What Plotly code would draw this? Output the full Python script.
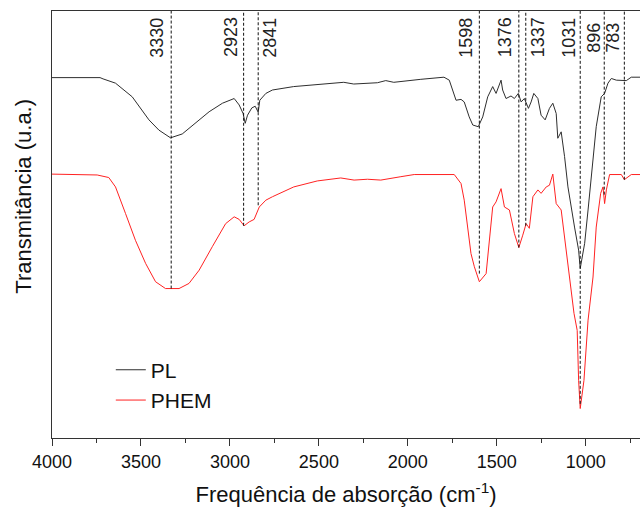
import plotly.graph_objects as go

# ---- data (wavenumber cm-1, transmittance in arbitrary units) ----
pl_wn = [4000, 3730, 3713, 3643, 3549, 3455, 3399, 3334, 3268, 3193, 3117, 3042, 2976, 2948,
         2926, 2914, 2901, 2877, 2858, 2841, 2832, 2798, 2761, 2642, 2452, 2360, 2304, 2171,
         2124, 2079, 1927, 1797, 1767, 1748, 1729, 1701, 1683, 1655, 1635, 1604, 1579, 1551,
         1523, 1504, 1491, 1476, 1467, 1448, 1420, 1401, 1379, 1363, 1345, 1322, 1307, 1292,
         1269, 1251, 1228, 1204, 1185, 1166, 1157, 1138, 1119, 1100, 1063, 1040, 1031, 1006,
         987, 959, 941, 913, 894, 875, 856, 828, 800, 772, 744, 687]
pl_t = [84.4, 84.4, 84.1, 83.1, 79.9, 74.5, 72.1, 70.3, 71.2, 73.7, 76.4, 78.4, 79.5, 78.0,
        76.0, 73.7, 75.6, 77.3, 77.7, 76.3, 79.1, 80.7, 81.5, 82.3, 82.9, 83.3, 82.9, 83.2,
        83.7, 83.3, 84.0, 84.5, 83.8, 81.5, 79.1, 79.3, 78.7, 75.2, 73.3, 72.9, 75.2, 79.9,
        82.3, 80.7, 82.3, 83.8, 81.5, 79.5, 80.1, 79.5, 80.7, 78.7, 79.5, 77.2, 78.7, 80.7,
        79.5, 75.6, 74.5, 77.2, 78.4, 76.0, 70.2, 71.7, 65.9, 58.8, 49.4, 44.0, 39.7, 45.6,
        53.4, 65.1, 72.9, 79.9, 80.7, 83.1, 84.2, 83.8, 83.7, 83.7, 84.5, 84.5]

phem_wn = [4000, 3746, 3681, 3643, 3587, 3531, 3474, 3418, 3362, 3286, 3230, 3173, 3099, 3024,
           2976, 2948, 2920, 2892, 2864, 2835, 2798, 2761, 2641, 2509, 2377, 2302, 2227, 2152,
           2039, 1964, 1739, 1701, 1683, 1664, 1645, 1626, 1598, 1560, 1542, 1523, 1504, 1476,
           1457, 1429, 1401, 1376, 1354, 1335, 1317, 1297, 1269, 1251, 1222, 1204, 1185, 1166,
           1138, 1115, 1091, 1066, 1048, 1040, 1031, 1010, 987, 959, 941, 916, 903, 894, 884,
           866, 800, 783, 744, 687]
phem_t = [61.8, 61.6, 61.0, 58.8, 52.6, 46.3, 40.9, 36.6, 35.0, 35.0, 36.2, 39.3, 44.8, 50.2,
          51.8, 51.2, 49.7, 50.6, 51.2, 54.1, 55.7, 56.5, 58.8, 60.2, 60.9, 60.4, 60.6, 60.4,
          61.2, 61.7, 61.7, 59.6, 55.7, 49.4, 43.2, 40.1, 36.6, 38.5, 45.6, 54.1, 55.3, 58.4,
          54.1, 53.4, 47.9, 44.6, 47.5, 50.2, 49.1, 56.5, 58.1, 57.3, 58.8, 59.2, 61.8, 54.9,
          53.4, 45.6, 37.0, 29.2, 25.2, 13.5, 6.9, 13.5, 27.6, 37.7, 49.4, 57.3, 58.8, 54.9, 58.1,
          61.7, 61.7, 60.5, 61.7, 61.7]

peak_wn = [3330, 2923, 2841, 1598, 1376, 1337, 1031, 896, 783]
peak_labels = ["3330", "2923", "2841", "1598", "1376", "1337", "1031", "896", "783"]
peak_line_end = [35.0, 49.7, 54.5, 38.5, 44.6, 49.7, 8.0, 57.0, 60.5]

series_names = ["PL", "PHEM"]
x_ticks = [4000, 3500, 3000, 2500, 2000, 1500, 1000]

# ---- styling ----
FONT = "Arial, 'Liberation Sans', sans-serif"
label_shift = {"3330": -14, "2923": -12, "2841": 12, "1598": -13, "1376": -13,
               "1337": 13, "1031": -11, "896": -10, "783": -11}

fig = go.Figure()
fig.add_trace(go.Scatter(x=pl_wn, y=pl_t, mode="lines", name=series_names[0],
                         line=dict(color="#2e2e2e", width=1)))
fig.add_trace(go.Scatter(x=phem_wn, y=phem_t, mode="lines", name=series_names[1],
                         line=dict(color="#ff2222", width=1)))

for wn, lab, yend in zip(peak_wn, peak_labels, peak_line_end):
    fig.add_shape(type="line", xref="x", yref="y", x0=wn, x1=wn, y0=yend, y1=100,
                  line=dict(color="#111111", width=1, dash="3px,2px"), layer="above")
    fig.add_annotation(x=wn, xref="x", y=0.938, yref="paper", text=lab, textangle=-90,
                       showarrow=False, xanchor="center", yanchor="middle",
                       xshift=label_shift[lab],
                       font=dict(family=FONT, size=18, color="#222222"))

fig.add_annotation(x=0, xref="paper", y=0.565, yref="paper", text="Transmitância (u.a.)",
                   textangle=-90, showarrow=False, xanchor="center", yanchor="middle",
                   xshift=-28, font=dict(family=FONT, size=22, color="#111111"))

fig.update_layout(
    width=640, height=512,
    margin=dict(l=52, r=0, t=11, b=74),
    plot_bgcolor="white", paper_bgcolor="white",
    font=dict(family=FONT, size=18, color="#111111"),
    showlegend=True,
    legend=dict(x=0.1, y=0.207, xanchor="left", yanchor="top",
                bgcolor="rgba(0,0,0,0)", font=dict(family=FONT, size=21),
                tracegroupgap=0),
    xaxis=dict(range=[4000, 695], tickvals=x_ticks, ticks="outside", ticklen=7,
               tickwidth=1, tickcolor="#333333", showline=True, linecolor="#333333",
               linewidth=1, mirror=True, showgrid=False, zeroline=False,
               tickfont=dict(family=FONT, size=18, color="#111111"),
               minor=dict(dtick=250, tick0=0, ticks="outside", ticklen=4,
                          tickcolor="#333333", showgrid=False),
               title=dict(text="Frequência de absorção (cm<sup>-1</sup>)",
                          font=dict(family=FONT, size=22, color="#111111"), standoff=16)),
    yaxis=dict(range=[0, 100], showticklabels=False, ticks="", showline=True,
               linecolor="#333333", linewidth=1, showgrid=False, zeroline=False),
)

fig.write_html("out.html")
